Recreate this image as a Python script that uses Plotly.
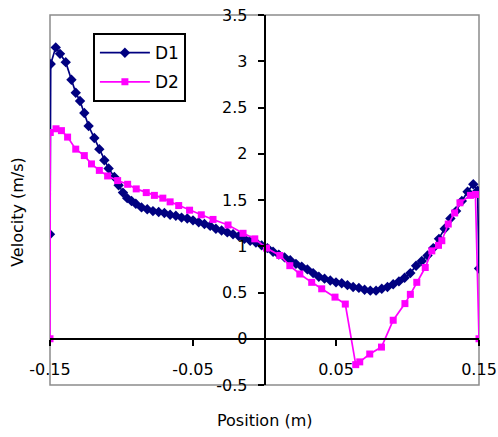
import plotly.graph_objects as go

# D1 series (Position m, Velocity m/s)
d1_x = [-0.1500, -0.1495, -0.1460, -0.1430, -0.1390, -0.1350, -0.1320, -0.1290, -0.1260, -0.1230,
        -0.1190, -0.1155, -0.1120, -0.1090, -0.1050, -0.1020, -0.0990, -0.0960, -0.0930, -0.0900,
        -0.0860, -0.0820, -0.0780, -0.0740, -0.0700, -0.0660, -0.0620, -0.0580, -0.0540, -0.0500,
        -0.0460, -0.0420, -0.0380, -0.0340, -0.0300, -0.0260, -0.0220, -0.0180, -0.0140, -0.0100,
        -0.0060, -0.0020, 0.0020, 0.0060, 0.0100, 0.0140, 0.0180, 0.0220, 0.0260, 0.0300,
        0.0340, 0.0380, 0.0420, 0.0460, 0.0500, 0.0540, 0.0580, 0.0620, 0.0660, 0.0700,
        0.0740, 0.0780, 0.0820, 0.0860, 0.0900, 0.0940, 0.0980, 0.1020, 0.1060, 0.1100,
        0.1140, 0.1180, 0.1220, 0.1260, 0.1300, 0.1340, 0.1380, 0.1420, 0.1460, 0.1490,
        0.1500]
d1_y = [1.13, 2.97, 3.15, 3.08, 2.99, 2.80, 2.66, 2.57, 2.44, 2.30,
        2.17, 2.05, 1.93, 1.84, 1.75, 1.66, 1.58, 1.52, 1.49, 1.46,
        1.42, 1.40, 1.38, 1.37, 1.36, 1.34, 1.33, 1.31, 1.30, 1.28,
        1.26, 1.24, 1.22, 1.19, 1.17, 1.15, 1.13, 1.11, 1.08, 1.06,
        1.04, 1.01, 0.98, 0.94, 0.91, 0.88, 0.85, 0.81, 0.78, 0.75,
        0.71, 0.67, 0.65, 0.63, 0.61, 0.60, 0.58, 0.56, 0.55, 0.53,
        0.52, 0.52, 0.54, 0.56, 0.59, 0.62, 0.66, 0.71, 0.79, 0.84,
        0.90, 0.98, 1.08, 1.19, 1.30, 1.38, 1.49, 1.59, 1.67, 1.60,
        0.76]

# D2 series
d2_x = [-0.1500, -0.1498, -0.1458, -0.1420, -0.1377, -0.1320, -0.1260, -0.1210, -0.1155, -0.1097,
        -0.1027, -0.0957, -0.0897, -0.0827, -0.0770, -0.0711, -0.0660, -0.0600, -0.0524, -0.0442,
        -0.0360, -0.0255, -0.0150, -0.0068, 0.0014, 0.0107, 0.0177, 0.0247, 0.0330, 0.0400,
        0.0493, 0.0565, 0.0638, 0.0666, 0.0736, 0.0818, 0.0900, 0.0982, 0.1020, 0.1065,
        0.1124, 0.1170, 0.1217, 0.1240, 0.1285, 0.1330, 0.1367, 0.1440, 0.1475, 0.1500]
d2_y = [0.00, 2.23, 2.27, 2.25, 2.18, 2.05, 1.98, 1.89, 1.82, 1.76,
        1.71, 1.67, 1.62, 1.58, 1.55, 1.52, 1.48, 1.44, 1.39, 1.34,
        1.29, 1.23, 1.14, 1.08, 0.98, 0.90, 0.79, 0.70, 0.61, 0.54,
        0.45, 0.375, -0.28, -0.25, -0.165, -0.09, 0.20, 0.38, 0.48, 0.61,
        0.77, 0.95, 1.01, 1.06, 1.24, 1.36, 1.47, 1.55, 1.56, 0.00]

x_ticks = [-0.15, -0.05, 0.05, 0.15]
x_labels = ["-0.15", "-0.05", "0.05", "0.15"]
y_ticks = [-0.5, 0, 0.5, 1, 1.5, 2, 2.5, 3, 3.5]
y_labels = ["-0.5", "0", "0.5", "1", "1.5", "2", "2.5", "3", "3.5"]

FONT = "DejaVu Sans"

fig = go.Figure()
fig.add_trace(go.Scatter(x=d1_x, y=d1_y, name="D1", mode="lines+markers",
                         legendgroup="a",
                         line=dict(color="#000080", width=1.7),
                         marker=dict(symbol="diamond", size=8, color="#000080")))
fig.add_trace(go.Scatter(x=d2_x, y=d2_y, name="D2", mode="lines+markers",
                         legendgroup="b",
                         line=dict(color="#FF00FF", width=1.7),
                         marker=dict(symbol="square", size=7, color="#FF00FF")))

fig.add_shape(type="rect", xref="paper", yref="paper", x0=0, y0=0, x1=1, y1=1,
              line=dict(color="#8c8c8c", width=1.5), layer="below")

fig.update_layout(
    width=498, height=437,
    margin=dict(l=50, r=19, t=15, b=52, autoexpand=False),
    paper_bgcolor="white", plot_bgcolor="white",
    font=dict(family=FONT, size=16, color="black"),
    showlegend=True,
    legend=dict(x=0.1, y=0.951, xanchor="left", yanchor="top",
                bordercolor="black", borderwidth=2, bgcolor="white",
                traceorder="grouped", tracegroupgap=4, itemwidth=50,
                font=dict(family=FONT, size=17, color="black")),
    xaxis=dict(range=[-0.15, 0.15], tickvals=x_ticks, ticktext=x_labels,
               anchor="free", position=0.125, automargin=False,
               ticklabeloverflow="allow",
               showline=True, linecolor="black", linewidth=1.5,
               ticks="outside", ticklen=6, tickwidth=1.5, tickcolor="black",
               ticklabelstandoff=10,
               showgrid=False, zeroline=False),
    yaxis=dict(range=[-0.5, 3.5], tickvals=y_ticks, ticktext=y_labels,
               anchor="free", position=0.5, automargin=False,
               ticklabeloverflow="allow",
               showline=True, linecolor="black", linewidth=1.5,
               ticks="outside", ticklen=6, tickwidth=1.5, tickcolor="black",
               ticklabelstandoff=7,
               showgrid=False, zeroline=False),
    annotations=[
        dict(text="Position (m)", xref="paper", yref="paper", x=0.5, y=-0.097,
             xanchor="center", yanchor="middle", showarrow=False,
             font=dict(family=FONT, size=16, color="black")),
        dict(text="Velocity (m/s)", xref="paper", yref="paper", x=-0.0746, y=0.468,
             xanchor="center", yanchor="middle", showarrow=False, textangle=-90,
             font=dict(family=FONT, size=16, color="black")),
    ],
)

fig.write_html("out.html",
               config={"displayModeBar": False},
               post_script="document.body.style.margin='0';document.body.style.overflow='hidden';")
